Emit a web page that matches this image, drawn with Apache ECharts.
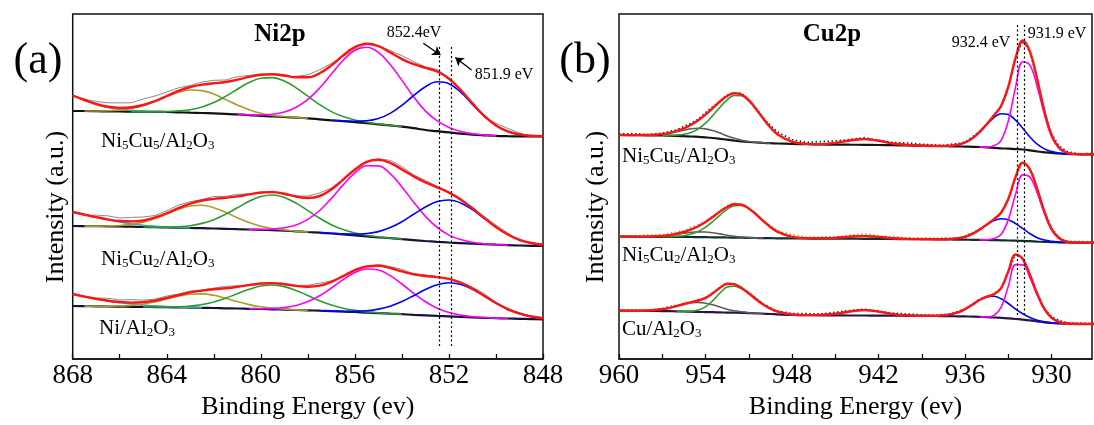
<!DOCTYPE html>
<html>
<head>
<meta charset="utf-8">
<script src="https://cdn.jsdelivr.net/npm/echarts@6.0.0/dist/echarts.min.js"></script>
<style>
html,body{margin:0;padding:0;background:#fff;}
#c{width:1094px;height:425px;}
</style>
</head>
<body>
<div id="c"></div>
<script>
// ---------------- Ni 2p panel (a) ----------------
const niX = [868,867.5,867,866.5,866,865.5,865,864.5,864,863.5,863,862.5,862,861.5,861,860.5,860,859.5,859,858.5,858,857.5,857,856.5,856,855.5,855,854.5,854,853.5,853,852.5,852,851.5,851,850.5,850,849.5,849,848.5,848];
const niTicks = [848,850,852,854,856,858,860,862,864,866,868];
const niTickLabels = [848,852,856,860,864,868];

// Ni5Cu5/Al2O3 (top)
const niTopBase = [248,248,247.8,247.6,247.5,247.4,247.3,247.2,247,246.7,246.3,246,245.6,245.1,244.6,243.9,243.1,242.5,242,241.4,240.7,239.7,238.7,237.8,236.8,235.8,234.7,233.6,232.4,230.8,229,227.8,226.6,225.4,224.4,223.7,223.1,222.8,222.6,222.5,222.5];
const niTopTeal = [15.5,11,7,4,2.2,1.2,0.5,0.2, 0,0,0,0,0,0,0,0,0,0, 0,0,0,0,0,0,0,0,0,0, 0,0,0,0,0,0,0,0,0,0, 0,0,0];
const niTopOlive = [0,0, 0.2,0.6,1.4,3.1,6.1,10.4,15.5,20.1,22.7,22.4,19.3,14.4,9.5,5.4,2.7,1.1,0.5,0.2, 0,0,0,0,0,0,0,0,0,0, 0,0,0,0,0,0,0,0,0,0, 0];
const niTopGreen = [0,0,0,0,0,0, 0.1,0.2,0.5,1.4,3,6,10.8,17.5,25.2,32.5,37.6,38.9,36,29.8,22.1,14.7,8.7,4.6,2.2,1,0.4,0.1, 0,0,0,0,0,0,0,0,0,0,0,0,0];
const niTopMag = [0,0,0,0,0,0,0,0,0,0,0,0,0,0,0, 0.3,0.9,2.2,5,10.3,18.9,31.3,46.2,60.9,71.9,76,71.9,60.9,46.2,31.3,18.9,10.3,5,2.2,0.9,0.3, 0,0,0,0,0];
const niTopBlue = [0,0,0,0,0,0,0,0,0,0,0,0,0,0,0,0,0,0,0,0,0,0,0, 0.3,0.9,2.4,5.8,12,21.3,32.7,43.3,49.4,48.7,41.4,30.4,19.2,10.5,4.9,2,0.7,0.2];
const niTopResid = [0,1,2.5,4,5,4.5,6,5,4,3,1.5,2.5,3,2,3,1.5,0.5,0,-1,1,2.5,3.5,2,-1,-2,-0.5,0.5,2,3.5,2.5,1,2,1,-1,-2,-1,2,3,1.5,-1,0.5];

// Ni5Cu2/Al2O3 (middle)
const niMidBase = [133,132.9,132.8,132.7,132.5,132.3,132,131.8,131.5,131.3,131,130.8,130.5,130.2,129.8,129.5,129.2,128.8,128.3,127.7,127,126.3,125.5,124.6,123.7,122.7,121.7,120.8,119.8,118.9,118,117.2,116.5,115.9,115.3,114.8,114.3,113.9,113.5,113.2,113];
const niMidTeal = [14,11.5,9,6.5,4.5,3,1.8,1,0.5,0.2, 0,0,0,0,0,0,0,0,0,0, 0,0,0,0,0,0,0,0,0,0, 0,0,0,0,0,0,0,0,0,0, 0];
const niMidOlive = [0,0, 0.1,0.4,1.0,2.3,4.7,8.6,13.4,18.4,22.0,22.9,20.8,16.5,11.4,6.9,3.6,1.7,0.7,0.2, 0,0,0,0,0,0,0,0,0,0, 0,0,0,0,0,0,0,0,0,0, 0];
const niMidGreen = [0,0,0,0,0,0,0, 0.1,0.4,1.0,2.3,4.8,8.8,14.5,21.4,28.2,33.3,35.2,33.3,28.2,21.4,14.5,8.8,4.8,2.3,1.0,0.4,0.1, 0,0,0,0,0,0,0,0,0,0,0,0,0];
const niMidMag = [0,0,0,0,0,0,0,0,0,0,0,0,0,0,0,0, 0.4,1.2,2.9,6.4,12.6,22.2,35.1,49.5,62.4,70.6,71.4,64.6,52.3,37.9,24.6,14.3,7.4,3.5,1.4,0.5,0.2, 0,0,0,0];
const niMidBlue = [0,0,0,0,0,0,0,0,0,0,0,0,0,0,0,0,0,0,0,0,0,0, 0.2,0.5,1.2,2.8,5.7,10.6,17.5,25.8,34,40.2,42.5,40.2,34,25.8,17.5,10.6,5.7,2.8,1.2];
const niMidResid = [0,-1,2,3.5,3,4,3.5,2,2.5,3,2,1,2.5,1.5,2,0.5,-0.5,1,-1,0.5,2,3,1.5,-0.5,-1.5,0,1,2.5,3,1.5,2,1,0,-1,0.5,1.5,2,1.5,-1,0.5,0];

// Ni/Al2O3 (bottom)
const niBotBase = [53,52.8,52.7,52.5,52.4,52.2,52.1,51.9,51.8,51.6,51.4,51.2,51,50.7,50.5,50.2,50,49.7,49.4,49,48.7,48.3,47.9,47.4,47,46.4,45.9,45.3,44.8,44.2,43.7,43.1,42.6,42.1,41.6,41.2,40.8,40.5,40.2,39.9,39.7];
const niBotTeal = [12,9.5,7.3,5.5,4,2.8,1.9,1.2,0.7,0.4,0.2, 0,0,0,0,0,0,0,0,0,0, 0,0,0,0,0,0,0,0,0,0, 0,0,0,0,0,0,0,0,0,0];
const niBotOlive = [0,0, 0.1,0.2,0.6,1.4,2.9,5.2,8.2,11.2,13.4,13.9,12.7,10,6.9,4.2,2.2,1,0.4,0.1, 0,0,0,0,0,0,0,0,0,0, 0,0,0,0,0,0,0,0,0,0, 0];
const niBotGreen = [0,0,0,0,0,0,0, 0.1,0.3,0.7,1.6,3.3,6.1,10,14.8,19.5,23,24.3,23,19.5,14.8,10,6.1,3.3,1.6,0.7,0.3,0.1, 0,0,0,0,0,0,0,0,0,0,0,0,0];
const niBotMag = [0,0,0,0,0,0,0,0,0,0,0,0,0,0,0,0, 0.3,0.9,2.1,4.5,8.7,15,23.1,31.9,39.5,43.6,43.1,38.1,30.2,21.4,13.6,7.7,3.9,1.8,0.7,0.3,0.1, 0,0,0,0];
const niBotBlue = [0,0,0,0,0,0,0,0,0,0,0,0,0,0,0,0,0,0,0,0,0,0, 0.1,0.3,0.8,1.9,4.0,7.5,12.6,19.1,25.7,31.1,33.6,32.5,28.1,21.8,15.1,9.4,5.2,2.6,1.1];
const niBotResid = [0,0.5,1,2.5,2,3,2,1.5,2,1,1.5,0.5,1,2,1,0,-0.5,0.5,-1,0.5,1.5,2.5,1,-0.5,-1,0,1,1.5,2,0.5,1,0.5,-0.5,0,1.5,2,0.5,-1.5,1,0,0];

const niMarkers = [852.4, 851.9];

// ---------------- Cu 2p panel (b) ----------------
const cuX = [960,959,958,957,956.5,956,955.5,955,954.5,954,953.5,953,952.5,952,951.5,951,950.5,950,949.5,949,948,947,946,945,944,943,942,941,940,939,938,937.5,937,936.5,936,935.5,935,934.5,934,933.5,933,932.5,932,931.5,931,930.5,930,929.5,929,928.5,928,927];
const cuTicks = [930,933,936,939,942,945,948,951,954,957,960];
const cuTickLabels = [930,936,942,948,954,960];

// Ni5Cu5/Al2O3 (top)
const cuTopBase = [224,223.9,223.7,223.5,223.3,223.1,222.8,222.5,222.1,221.6,221,220.2,219.3,218.4,217.6,217,216.5,216.1,215.8,215.5,215.1,214.8,214.5,214.4,214.3,214.2,214,213.8,213.6,213.3,213,212.9,212.7,212.6,212.4,212.2,212,211.6,211.2,210.7,210.3,209.9,209.5,208.6,207.5,206.7,206,205.5,205,204.8,204.7,204.7];
const cuTopGray = [0,0,0.3,1.4,2.5,4.2,6,7.7,8.6,8.5,7.4,5.7,3.8,2.3,1.2,0.5,0.2,0.1, 0,0,0,0,0,0,0,0,0,0, 0,0,0,0,0,0,0,0,0,0, 0,0,0,0,0,0,0,0,0,0, 0,0,0,0];
const cuTopGreen = [0,0,0,0, 0.3,0.8,1.9,4.1,8.1,14.2,22.4,31.6,39.9,45.1,45.6,41.3,33.4,24.2,15.7,9.1,2.2,0.3, 0,0,0,0,0,0,0,0,0,0, 0,0,0,0,0,0,0,0,0,0, 0,0,0,0,0,0,0,0,0,0];
const cuTopSat = [0,0,0,0,0,0,0,0,0,0, 0,0,0,0,0,0,0,0,0,0, 0,0, 0.4,1.7,4.2,5.7,4.2,1.7,0.4, 0,0,0,0,0,0,0,0,0,0, 0,0,0,0,0,0,0,0,0,0, 0,0,0];
const cuTopBlue = [0,0,0,0,0,0,0,0,0,0, 0,0,0,0,0,0,0,0,0,0, 0,0,0,0,0,0,0,0,0,0, 0, 0.2,0.6,1.7,4.1,8.4,14.9,22.9,30.3,34.6,34.1,28.9,21.2,13.4,7.3,3.4,1.4,0.5,0.1, 0,0,0];
const cuTopMag = [0,0,0,0,0,0,0,0,0,0, 0,0,0,0,0,0,0,0,0,0, 0,0,0,0,0,0,0,0,0,0, 0,0,0,0,0,0,0, 0.3,2,8,28,62,87.8,85.1,64.8,37.8,16.2,5.4,1.4,0.3, 0,0];
const cuTopResid = [1,1.5,0.5,1,1.5,1,2,1.5,1,2,1.5,0,1,0.5,1.5,-1,0.5,1,2,2.5,2,1.5,2.5,2,1,1.5,0.5,1,2,1.5,1,0.5,1.5,1,0.5,1.5,1,0,1,-1,0.5,1,-0.5,0,1,-1,1.5,2,1.5,1,0.5,1];

// Ni5Cu2/Al2O3 (middle)
const cuMidBase = [122.3,122.3,122.2,122.2,122.1,122.1,122,122,121.9,121.8,121.7,121.6,121.5,121.4,121.3,121.1,121,120.9,120.8,120.7,120.6,120.5,120.4,120.3,120.3,120.2,120.1,120,119.9,119.8,119.7,119.6,119.5,119.4,119.3,119.2,119.1,119,118.9,118.7,118.5,118.3,118.1,117.8,117.4,117.1,116.9,116.7,116.5,116.4,116.3,116.3];
const cuMidGray = [0,0,0.2,0.9,1.5,2.6,3.7,4.7,5.2,5.2,4.5,3.5,2.3,1.4,0.7,0.3,0.1, 0,0,0,0,0,0,0,0,0,0, 0,0,0,0,0,0,0,0,0,0, 0,0,0,0,0,0,0,0,0,0, 0,0,0,0,0];
const cuMidGreen = [0,0,0,0, 0.2,0.6,1.3,2.9,5.7,10,15.8,22.3,28.2,31.9,32.2,29.2,23.6,17.1,11.1,6.4,1.6,0.2, 0,0,0,0,0,0,0,0,0,0, 0,0,0,0,0,0,0,0,0,0, 0,0,0,0,0,0,0,0,0,0];
const cuMidSat = [0,0,0,0,0,0,0,0,0,0, 0,0,0,0,0,0,0,0,0,0, 0,0, 0.2,0.8,2,2.7,2,0.8,0.2, 0,0,0,0,0,0,0,0,0,0, 0,0,0,0,0,0,0,0,0,0, 0,0,0];
const cuMidBlue = [0,0,0,0,0,0,0,0,0,0, 0,0,0,0,0,0,0,0,0,0, 0,0,0,0,0,0,0,0,0,0, 0,0, 0.5,1.3,2.9,5.9,10.2,15.2,19.5,21.6,20.7,17.1,12.2,7.5,3.9,1.8,0.7,0.2, 0,0,0,0];
const cuMidMag = [0,0,0,0,0,0,0,0,0,0, 0,0,0,0,0,0,0,0,0,0, 0,0,0,0,0,0,0,0,0,0, 0,0,0,0,0,0,0, 0.2,1.5,6,21,46.6,66,64,48.7,28.4,12.2,4.1,1,0.2, 0,0];
const cuMidResid = [0.5,1,1.5,1,2,1.5,1,2,1.5,0.5,1,0,1.5,1,0.5,0,1,0.5,1.5,1,2,1,1.5,1,1.5,2,1,1.5,1,1.5,1,2,1,0.5,1,1.5,1,0.5,0,1,-0.5,0.5,1,0,-1,1,1.5,1,0.5,1,1.5,0.5];

// Cu/Al2O3 (bottom)
const cuBotBase = [48.3,48.2,48.1,47.9,47.8,47.7,47.5,47.3,47.1,46.9,46.8,46.6,46.4,46.3,46.2,45.9,45.7,45.3,45,44.6,44,43.8,43.7,43.6,43.5,43.5,43.4,43.3,43.2,43.1,43,42.9,42.8,42.7,42.6,42.4,42.2,41.8,41.5,41.1,40.6,40,39.4,38.6,37.6,36.6,36,35.6,35.3,35.1,35,35];
const cuBotGray = [0, 0.1,0.4,1.9,3.4,5.3,7.4,8.9,9.5,8.9,7.4,5.3,3.4,1.9,1,0.4,0.1, 0,0,0,0,0,0,0,0,0,0, 0,0,0,0,0,0,0,0,0,0, 0,0,0,0,0,0,0,0,0,0, 0,0,0,0,0];
const cuBotGreen = [0,0,0,0,0,0, 0.1,0.5,1.9,5.3,11.5,19.4,25.5,26.5,23.9,19.4,14,9.1,5.3,2.8,0.5,0.1, 0,0,0,0,0,0,0,0,0,0, 0,0,0,0,0,0,0,0,0,0, 0,0,0,0,0,0,0,0,0,0];
const cuBotSat = [0,0,0,0,0,0,0,0,0,0, 0,0,0,0,0,0,0,0,0,0, 0,0, 0.4,1.6,4,5.4,4,1.6,0.4, 0,0,0,0,0,0,0,0,0,0, 0,0,0,0,0,0,0,0,0,0, 0,0,0];
const cuBotBlue = [0,0,0,0,0,0,0,0,0,0, 0,0,0,0,0,0,0,0,0,0, 0,0,0,0,0,0,0,0,0,0, 0.2,0.7,1.8,3.9,7.3,11.9,16.8,20.3,21.2,19.1,14.9,10,5.8,2.9,1.2,0.5,0.1, 0,0,0,0,0];
const cuBotMag = [0,0,0,0,0,0,0,0,0,0, 0,0,0,0,0,0,0,0,0,0, 0,0,0,0,0,0,0,0,0,0, 0,0,0,0,0,0,0, 0.2,2,10.7,32.3,54.4,54.7,42.6,26.4,13,5.1,1.6,0.4,0.1, 0,0];
const cuBotResid = [0,0.5,0,0.5,1,0.5,0,0.5,1,0,0.5,0,-0.5,0.5,0,0.5,1,0.5,1,0.5,1,1.5,1,1.5,1,1,0.5,1,1.5,1,0.5,1,0.5,1,0,0.5,1,0,0.5,0,-0.5,0.5,0,-0.5,0.5,0,1,1.5,1,0.5,1,0.5];

const cuMarkers = [932.4, 931.9];

// ---------------- build ----------------
const C = {red:'#ff1414', teal:'#3aa7a7', olive:'#a69d2c', green:'#2f9a2f', mag:'#ff00ff', blue:'#0000ff', gray:'#5e5e5e', sat:'#6a1c1c'};
function check(name, arr, n){ if(arr.length!==n) throw new Error(name+' has '+arr.length+' values, expected '+n); }
const niSpectra = [
  {name:'top', base:niTopBase, resid:niTopResid, baseColor:'#111', comps:[['teal',niTopTeal,C.teal],['olive',niTopOlive,C.olive],['green',niTopGreen,C.green],['mag',niTopMag,C.mag],['blue',niTopBlue,C.blue]]},
  {name:'mid', base:niMidBase, resid:niMidResid, baseColor:'#14143a', comps:[['teal',niMidTeal,C.teal],['olive',niMidOlive,C.olive],['green',niMidGreen,C.green],['mag',niMidMag,C.mag],['blue',niMidBlue,C.blue]]},
  {name:'bot', base:niBotBase, resid:niBotResid, baseColor:'#14143a', comps:[['teal',niBotTeal,C.teal],['olive',niBotOlive,C.olive],['green',niBotGreen,C.green],['mag',niBotMag,C.mag],['blue',niBotBlue,C.blue]]}
];
const cuSpectra = [
  {name:'top', base:cuTopBase, resid:cuTopResid, baseColor:'#151515', rawColor:'#202020', comps:[['gray',cuTopGray,C.gray],['green',cuTopGreen,C.green],['sat',cuTopSat,C.sat],['blue',cuTopBlue,C.blue],['mag',cuTopMag,C.mag]]},
  {name:'mid', base:cuMidBase, resid:cuMidResid, baseColor:'#10302e', rawColor:'#9a9a2a', comps:[['gray',cuMidGray,C.gray],['green',cuMidGreen,C.green],['sat',cuMidSat,C.sat],['blue',cuMidBlue,C.blue],['mag',cuMidMag,C.mag]]},
  {name:'bot', base:cuBotBase, resid:cuBotResid, baseColor:'#2a1446', rawColor:'#23234a', comps:[['gray',cuBotGray,C.gray],['green',cuBotGreen,C.green],['sat',cuBotSat,C.sat],['blue',cuBotBlue,C.blue],['mag',cuBotMag,C.mag]]}
];

function compData(x, base, h){
  const out=[];
  for(let i=0;i<x.length;i++){
    if(h[i]>0 || (i>0&&h[i-1]>0) || (i<x.length-1&&h[i+1]>0)) out.push([x[i], base[i]+h[i]]);
  }
  return out;
}
function envData(x, base, comps){ return x.map((e,i)=>[e, comps.reduce((s,c)=>s+c[1][i], base[i])]); }

const series = [];
function addPanel(p, x, spectra, rawDotted){
  spectra.forEach(sp=>{
    check(sp.name+' base', sp.base, x.length);
    check(sp.name+' resid', sp.resid, x.length);
    sp.comps.forEach(c=>check(sp.name+' '+c[0], c[1], x.length));
    const env = envData(x, sp.base, sp.comps);
    const raw = env.map((d,i)=>[d[0], d[1]+sp.resid[i]]);
    series.push({type:'line', xAxisIndex:p, yAxisIndex:p, data:raw, showSymbol:false, smooth:false, silent:true, z:1,
      lineStyle: rawDotted ? {color:sp.rawColor, width:1.6, type:[1.5,2.5]} : {color:'#8a8a8a', width:1}});
    series.push({type:'line', xAxisIndex:p, yAxisIndex:p, data:x.map((e,i)=>[e, sp.base[i]]), showSymbol:false, smooth:0.4, silent:true, z:2,
      lineStyle:{color:sp.baseColor, width:2.2}});
    sp.comps.forEach(c=>{
      series.push({type:'line', xAxisIndex:p, yAxisIndex:p, data:compData(x, sp.base, c[1]), showSymbol:false, smooth:0.4, silent:true, z:3,
        lineStyle:{color:c[2], width:1.6}});
    });
    series.push({type:'line', xAxisIndex:p, yAxisIndex:p, data:env, showSymbol:false, smooth:0.4, silent:true, z:4,
      lineStyle:{color:C.red, width:2.4}});
  });
}
addPanel(0, niX, niSpectra, false);
addPanel(1, cuX, cuSpectra, true);

// marker lines and arrows
series.push({type:'line', xAxisIndex:0, yAxisIndex:0, data:[], silent:true, z:5,
  markLine:{silent:true, animation:false, symbol:['none','none'], label:{show:false},
    lineStyle:{color:'#000', width:1.2, type:[2,2.5]},
    data: niMarkers.map(v=>[{coord:[v,13]},{coord:[v,314]}])}});
series.push({type:'line', xAxisIndex:0, yAxisIndex:0, data:[], silent:true, z:5,
  markLine:{silent:true, animation:false, symbol:['none','arrow'], symbolSize:8, label:{show:false},
    lineStyle:{color:'#000', width:1.3, type:'solid'},
    data: [[{coord:[853.09,315.7]},{coord:[852.36,304]}],[{coord:[851.04,289]},{coord:[851.73,301.5]}]]}});
series.push({type:'line', xAxisIndex:1, yAxisIndex:1, data:[], silent:true, z:5,
  markLine:{silent:true, animation:false, symbol:['none','none'], label:{show:false},
    lineStyle:{color:'#000', width:1.2, type:[2,2.5]},
    data: cuMarkers.map(v=>[{coord:[v,44]},{coord:[v,336]}])}});

const serif = 'Liberation Serif, Times New Roman, serif';
function xAxisCfg(grid, min, max, ticks, labels){
  return {type:'value', gridIndex:grid, min:min, max:max, inverse:true,
    axisLine:{show:true, lineStyle:{color:'#111', width:1.5}},
    axisTick:{show:true, inside:true, length:5, customValues:ticks, lineStyle:{color:'#111', width:1.3}},
    axisLabel:{show:true, customValues:labels, color:'#000', fontFamily:serif, fontSize:27, margin:3, showMinLabel:true, showMaxLabel:true},
    splitLine:{show:false},
    name:'Binding Energy (ev)', nameLocation:'middle', nameGap:30,
    nameTextStyle:{color:'#000', fontFamily:serif, fontSize:26}};
}
function yAxisCfg(grid){
  return {type:'value', gridIndex:grid, min:0, max:345, axisLine:{show:false}, axisTick:{show:false}, axisLabel:{show:false}, splitLine:{show:false}};
}
const sub = {
  a:{fontFamily:serif, fontSize:21, lineHeight:22, verticalAlign:'bottom', fill:'#000'},
  s:{fontFamily:serif, fontSize:13, lineHeight:11, verticalAlign:'bottom', fill:'#000'}
};
function label(x,y,text){
  return {type:'text', x:x, y:y, silent:true, z:10, style:{text:text, rich:sub, align:'left', verticalAlign:'middle', fill:'#000'}};
}
function plain(x,y,text,font,align){
  return {type:'text', x:x, y:y, silent:true, z:10, style:{text:text, font:font, fill:'#000', align:align||'center', verticalAlign:'middle'}};
}

const option = {
  animation:false,
  backgroundColor:'#fff',
  grid:[
    {left:72.7, top:14, width:470.3, height:345, show:true, borderColor:'#111', borderWidth:1.5, backgroundColor:'transparent'},
    {left:619, top:14, width:473, height:345, show:true, borderColor:'#111', borderWidth:1.5, backgroundColor:'transparent'}
  ],
  xAxis:[xAxisCfg(0,848,868,niTicks,niTickLabels), xAxisCfg(1,927.2,960,cuTicks,cuTickLabels)],
  yAxis:[yAxisCfg(0), yAxisCfg(1)],
  series:series,
  graphic:{elements:[
    plain(38,61,'(a)','44px '+serif),
    plain(585,61,'(b)','44px '+serif),
    plain(280,35,'Ni2p','bold 25px '+serif),
    plain(832,35,'Cu2p','bold 25px '+serif),
    plain(414,33,'852.4eV','16px '+serif),
    plain(504,75,'851.9 eV','16px '+serif),
    plain(981,43,'932.4 eV','16px '+serif),
    plain(1057,34,'931.9 eV','16px '+serif),
    {type:'text', x:56, y:207, rotation:Math.PI/2, silent:true, style:{text:'Intensity (a.u.)', font:'26px '+serif, fill:'#000', align:'center', verticalAlign:'middle'}},
    {type:'text', x:596, y:207, rotation:Math.PI/2, silent:true, style:{text:'Intensity (a.u.)', font:'26px '+serif, fill:'#000', align:'center', verticalAlign:'middle'}},
    label(101,141,'{a|Ni}{s|5}{a|Cu}{s|5}{a|/Al}{s|2}{a|O}{s|3}'),
    label(101,259,'{a|Ni}{s|5}{a|Cu}{s|2}{a|/Al}{s|2}{a|O}{s|3}'),
    label(99,328,'{a|Ni/Al}{s|2}{a|O}{s|3}'),
    label(622,156,'{a|Ni}{s|5}{a|Cu}{s|5}{a|/Al}{s|2}{a|O}{s|3}'),
    label(622,255,'{a|Ni}{s|5}{a|Cu}{s|2}{a|/Al}{s|2}{a|O}{s|3}'),
    label(622,329,'{a|Cu/Al}{s|2}{a|O}{s|3}')
  ]}
};
const chart = echarts.init(document.getElementById('c'), null, {renderer:'canvas', width:1094, height:425});
chart.setOption(option);
</script>
</body>
</html>
